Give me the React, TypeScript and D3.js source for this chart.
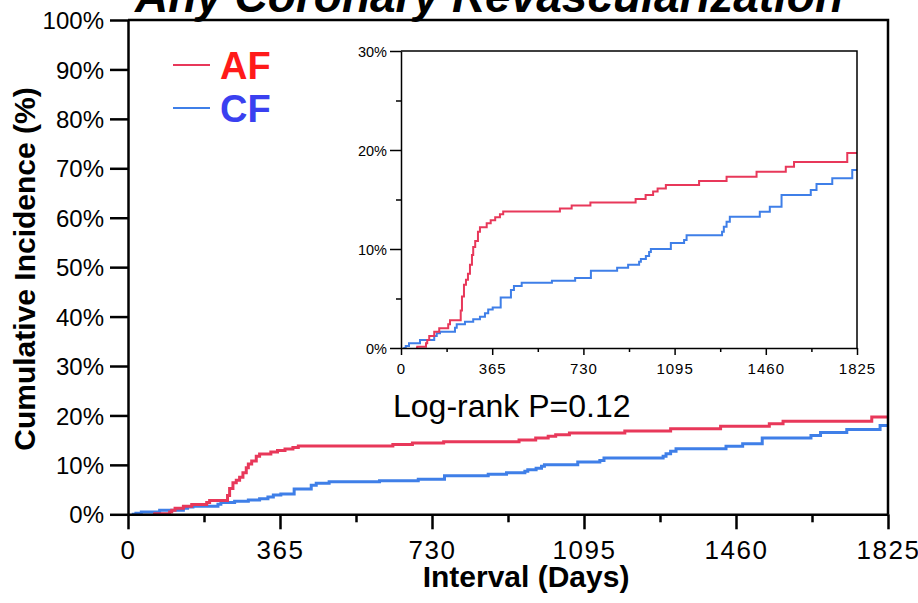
import React, { useEffect, useRef } from 'react'
import * as d3 from 'd3'

// Kaplan-Meier style cumulative incidence (days, %)
const afDays = [60, 65, 100, 105, 113, 133, 153, 189, 196, 239, 244, 252, 260, 268, 276, 284, 289, 297, 308, 316, 343, 359, 377, 396, 409, 636, 683, 758, 939, 979, 1009, 1027, 1060, 1193, 1303, 1423, 1540, 1573, 1786, 1825]
const afPct = [0, 0.13, 0.47, 0.8, 1.2, 1.65, 2.0, 2.4, 2.8, 3.8, 5.2, 6.4, 6.9, 7.5, 8.4, 9.4, 10.2, 10.8, 11.75, 12.2, 12.6, 12.9, 13.2, 13.5, 13.8, 14.1, 14.4, 14.7, 15.05, 15.45, 15.8, 16.1, 16.46, 16.87, 17.3, 17.8, 18.3, 18.8, 19.7, 19.7]

const cfDays = [9, 19, 32, 76, 133, 143, 156, 216, 223, 256, 289, 316, 336, 349, 367, 399, 440, 452, 483, 604, 697, 760, 865, 909, 953, 960, 980, 993, 1000, 1080, 1133, 1143, 1285, 1292, 1303, 1316, 1436, 1476, 1523, 1640, 1663, 1726, 1806, 1825]
const cfPct = [0, 0.2, 0.47, 0.8, 1.2, 1.48, 1.65, 2.05, 2.4, 2.66, 2.9, 3.16, 3.5, 3.9, 4.1, 5.1, 5.86, 6.26, 6.6, 6.8, 7.07, 7.8, 8.1, 8.4, 8.7, 9.0, 9.3, 9.7, 10.0, 10.6, 10.9, 11.4, 11.75, 12.25, 12.75, 13.26, 13.77, 14.27, 15.45, 15.96, 16.57, 17.14, 17.98, 17.98]

const seriesNames = ['AF', 'CF']
const dayTicks = [0, 365, 730, 1095, 1460, 1825]
const dayMinorTicks = [182.5, 547.5, 912.5, 1277.5, 1642.5]
const mainPctTicks = [0, 10, 20, 30, 40, 50, 60, 70, 80, 90, 100]
const insetPctTicks = [0, 10, 20, 30]
const insetPctMinorTicks = [5, 15, 25]

const title = 'Any Coronary Revascularization'
const yTitle = 'Cumulative Incidence (%)'
const xTitle = 'Interval (Days)'
const pText = 'Log-rank P=0.12'

const FONT = '"Liberation Sans", Arial, sans-serif'
const lineColors = ['#e8385a', '#3f7fe8']
const legendColors = ['#ff1a1a', '#3a40f0']

const App = () => {
  const ref = useRef<SVGSVGElement>(null)

  useEffect(() => {
    const svg = d3.select(ref.current)
    svg.selectAll('*').remove()

    const series = [
      afDays.map((d, i) => [d, afPct[i]] as [number, number]),
      cfDays.map((d, i) => [d, cfPct[i]] as [number, number]),
    ]

    const panel = (cfg: any) => {
      const x = d3.scaleLinear().domain([0, 1825]).range(cfg.xr)
      const y = d3.scaleLinear().domain([0, cfg.yMax]).range(cfg.yr)
      const g = svg.append('g')

      // lines (CF under AF)
      const line = d3
        .line<[number, number]>()
        .x(d => x(d[0]))
        .y(d => y(d[1]))
        .curve(d3.curveStepAfter)
      ;[1, 0].forEach(i => {
        g.append('path')
          .attr('d', line(series[i]))
          .attr('fill', 'none')
          .attr('stroke', lineColors[i])
          .attr('stroke-width', cfg.lw)
      })

      // frame top + right
      g.append('path')
        .attr('d', `M${cfg.xr[0]},${cfg.yr[1]}H${cfg.xr[1]}V${cfg.yr[0]}`)
        .attr('fill', 'none')
        .attr('stroke', '#000')
        .attr('stroke-width', cfg.aw)

      // x minor ticks
      g.append('g')
        .attr('transform', `translate(0,${cfg.yr[0]})`)
        .call(d3.axisBottom(x).tickValues(dayMinorTicks).tickSize(cfg.xMinor).tickSizeOuter(0).tickFormat(() => ''))
        .call(a => a.select('.domain').remove())
        .call(a => a.selectAll('line').attr('stroke-width', cfg.aw))

      // x axis
      g.append('g')
        .attr('transform', `translate(0,${cfg.yr[0]})`)
        .call(d3.axisBottom(x).tickValues(dayTicks).tickSize(cfg.xMajor).tickSizeOuter(0).tickFormat(d3.format('d')))
        .call(a => a.select('.domain').attr('stroke-width', cfg.aw))
        .call(a => a.selectAll('line').attr('stroke-width', cfg.aw))
        .call(a =>
          a.selectAll('text')
            .attr('y', cfg.xLabelY)
            .attr('dy', null)
            .attr('fill', '#000')
            .attr('font-family', FONT)
            .attr('font-size', cfg.fs)
            .attr('letter-spacing', cfg.ls),
        )

      // y minor ticks
      if (cfg.yMinorTicks) {
        g.append('g')
          .attr('transform', `translate(${cfg.xr[0]},0)`)
          .call(d3.axisLeft(y).tickValues(cfg.yMinorTicks).tickSize(cfg.yMinor).tickSizeOuter(0).tickFormat(() => ''))
          .call(a => a.select('.domain').remove())
          .call(a => a.selectAll('line').attr('stroke-width', cfg.aw))
      }

      // y axis
      g.append('g')
        .attr('transform', `translate(${cfg.xr[0]},0)`)
        .call(d3.axisLeft(y).tickValues(cfg.yTicks).tickSize(cfg.yMajor).tickSizeOuter(0).tickPadding(cfg.yPad).tickFormat(d => `${d}%`))
        .call(a => a.select('.domain').attr('stroke-width', cfg.aw))
        .call(a => a.selectAll('line').attr('stroke-width', cfg.aw))
        .call(a =>
          a.selectAll('text')
            .attr('fill', '#000')
            .attr('dy', '0.36em')
            .attr('font-family', FONT)
            .attr('font-size', cfg.yfs),
        )
    }

    // main chart
    panel({
      xr: [128, 888], yr: [514.3, 20], yMax: 100, lw: 3, aw: 2.5,
      xMajor: 15, xMinor: 8, xLabelY: 45, fs: 26, ls: 1.5,
      yTicks: mainPctTicks, yMajor: 18, yPad: 6, yfs: 24,
    })

    // inset
    panel({
      xr: [401, 857], yr: [348, 51], yMax: 30, lw: 2, aw: 1.5,
      xMajor: 7, xMinor: 4, xLabelY: 26, fs: 15, ls: 1,
      yTicks: insetPctTicks, yMinorTicks: insetPctMinorTicks, yMajor: 11, yMinor: 5, yPad: 3, yfs: 14.5,
    })

    // legend
    const legend = svg.append('g')
    seriesNames.forEach((name, i) => {
      const ly = 65 + i * 43
      legend.append('line')
        .attr('x1', 173).attr('x2', 210).attr('y1', ly).attr('y2', ly)
        .attr('stroke', lineColors[i]).attr('stroke-width', 2)
      legend.append('text')
        .attr('x', 220).attr('y', ly + 13.5)
        .attr('font-family', FONT).attr('font-size', 38).attr('font-weight', 'bold')
        .attr('fill', legendColors[i])
        .text(name)
    })

    svg.append('text') // title, clipped by the top edge
      .attr('x', 489).attr('y', 12)
      .attr('text-anchor', 'middle')
      .attr('font-family', FONT).attr('font-size', 46)
      .attr('font-weight', 'bold').attr('font-style', 'italic')
      .text(title)

    svg.append('text') // y title
      .attr('transform', 'translate(35,269) rotate(-90)')
      .attr('text-anchor', 'middle')
      .attr('font-family', FONT).attr('font-size', 30).attr('font-weight', 'bold')
      .text(yTitle)

    svg.append('text') // x title
      .attr('x', 526).attr('y', 587)
      .attr('text-anchor', 'middle')
      .attr('font-family', FONT).attr('font-size', 30).attr('font-weight', 'bold')
      .text(xTitle)

    svg.append('text') // log-rank
      .attr('x', 393).attr('y', 417)
      .attr('font-family', FONT).attr('font-size', 32)
      .text(pText)
  }, [])

  return (
    <svg
      ref={ref}
      width={918}
      height={603}
      style={{ position: 'absolute', left: 0, top: 0, background: '#fff' }}
    />
  )
}

export default App
